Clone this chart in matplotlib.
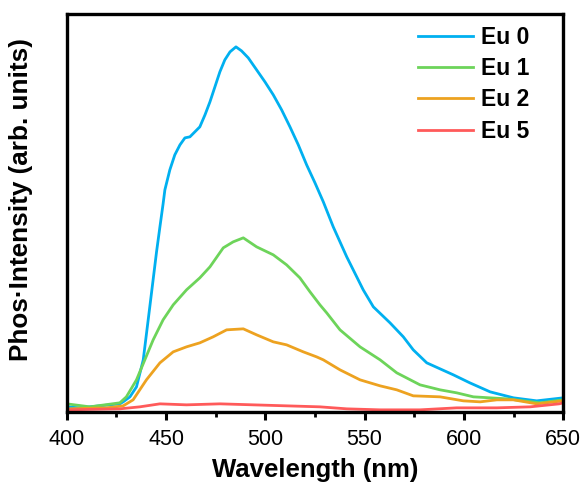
import numpy as np
import matplotlib.pyplot as plt
from matplotlib.ticker import MultipleLocator

# valeurs (unités arbitraires)
wl_eu0 = [400, 406.5, 416.6, 426.7, 428.4, 431.8, 435.1, 438.5, 441.8, 445.2, 446.9, 448.5, 449.4,
          451.9, 454.4, 457, 459.5, 462, 464.5, 467, 469.6, 472.1, 474.6, 477.1, 479.6, 482.2,
          485.2, 488, 491.4, 495.6, 499.8, 504, 508.2, 512.4, 516.6, 520.8, 525, 529.2, 534.2,
          541, 549.3, 554.4, 562.8, 569.5, 574.5, 581.3, 594.7, 603, 613.2, 625, 636.7, 650]
eu0 = [5, 4, 6, 8, 10, 15, 25, 52, 105, 160, 185, 208, 222,
       242, 257, 267, 274, 275, 280, 285, 297, 310, 325, 340, 352, 360,
       365, 361, 354, 342, 330, 317, 302, 285, 267, 247, 229, 210, 185,
       155, 122, 105, 89, 75, 62, 49, 37, 29, 20, 14, 11, 14]

wl_eu1 = [400, 411.6, 426.7, 430, 435.1, 443.5, 448.5, 453.6, 460.3, 467, 472.1, 478.8, 483.8,
          488.9, 495.6, 504, 510.7, 517.4, 522.5, 527.5, 530.9, 537.6, 547.7, 557.8, 566.2, 577.9,
          588, 596.4, 604.8, 621.6, 638.4, 650]
eu1 = [8, 5, 9, 15, 32, 72, 92, 107, 122, 134, 145, 164, 170,
       174, 165, 157, 147, 134, 120, 107, 99, 82, 65, 52, 39, 27,
       22, 19, 15, 13, 9, 12]

wl_eu2 = [400, 420, 428.4, 433.4, 440.1, 446.9, 453.6, 460.3, 467, 473.7, 480.5, 488.9, 495.6,
          504, 510.7, 519.1, 525.8, 529.2, 537.6, 547.7, 557.8, 566.2, 574.5, 588, 599.7, 608.2,
          616.6, 625, 636.7, 650]
eu2 = [3, 4, 6, 12, 32, 49, 60, 65, 69, 75, 82, 83, 77,
       70, 67, 60, 55, 52, 42, 32, 26, 22, 16, 15, 11, 10,
       12, 12, 8, 11]

wl_eu5 = [400, 426.7, 436.8, 446.9, 460.3, 477.1, 493.9, 510.7, 527.5, 541, 557.8, 577.9, 596.4,
          616.6, 633.4, 648, 650]
eu5 = [2, 3, 5, 8, 7, 8, 7, 6, 5, 3, 2, 2, 4,
       4, 5, 8, 9]

labels = ["Eu 0", "Eu 1", "Eu 2", "Eu 5"]
colors = ["#00B0F0", "#6DD45A", "#EDA220", "#FF5A5A"]

plt.rcParams['font.family'] = ['Liberation Sans', 'DejaVu Sans']

fig = plt.figure(figsize=(5.86, 4.95), dpi=100)
ax = fig.add_axes([0.114, 0.168, 0.847, 0.804])

series = [(wl_eu0, eu0), (wl_eu1, eu1), (wl_eu2, eu2), (wl_eu5, eu5)]
for (x, y), lab, c in zip(series, labels, colors):
    ax.plot(x, y, color=c, lw=2.0, label=lab, solid_joinstyle='round')

ax.set_xlim(400, 650)
ax.set_ylim(0, 398)
ax.xaxis.set_major_locator(MultipleLocator(50))
ax.xaxis.set_minor_locator(MultipleLocator(25))
ax.set_yticks([])
ax.tick_params(axis='x', which='major', direction='out', length=6, width=2.2, labelsize=15.5, pad=6)
ax.tick_params(axis='x', which='minor', direction='out', length=3.5, width=2)
for s in ax.spines.values():
    s.set_linewidth(2.4)

ax.set_xlabel("Wavelength (nm)", fontsize=18.5, fontweight='bold', labelpad=6)
ax.set_ylabel("Phos\u00b7Intensity (arb. units)", fontsize=18.8, fontweight='bold')
ax.yaxis.set_label_coords(-0.068, 0.533)

leg = ax.legend(loc='upper right', frameon=False, prop={'weight': 'bold', 'size': 16.5},
                handlelength=2.4, handletextpad=0.35, labelspacing=0.36,
                borderaxespad=0.3, bbox_to_anchor=(0.965, 1.01))

fig.savefig("out.png", dpi=100)
